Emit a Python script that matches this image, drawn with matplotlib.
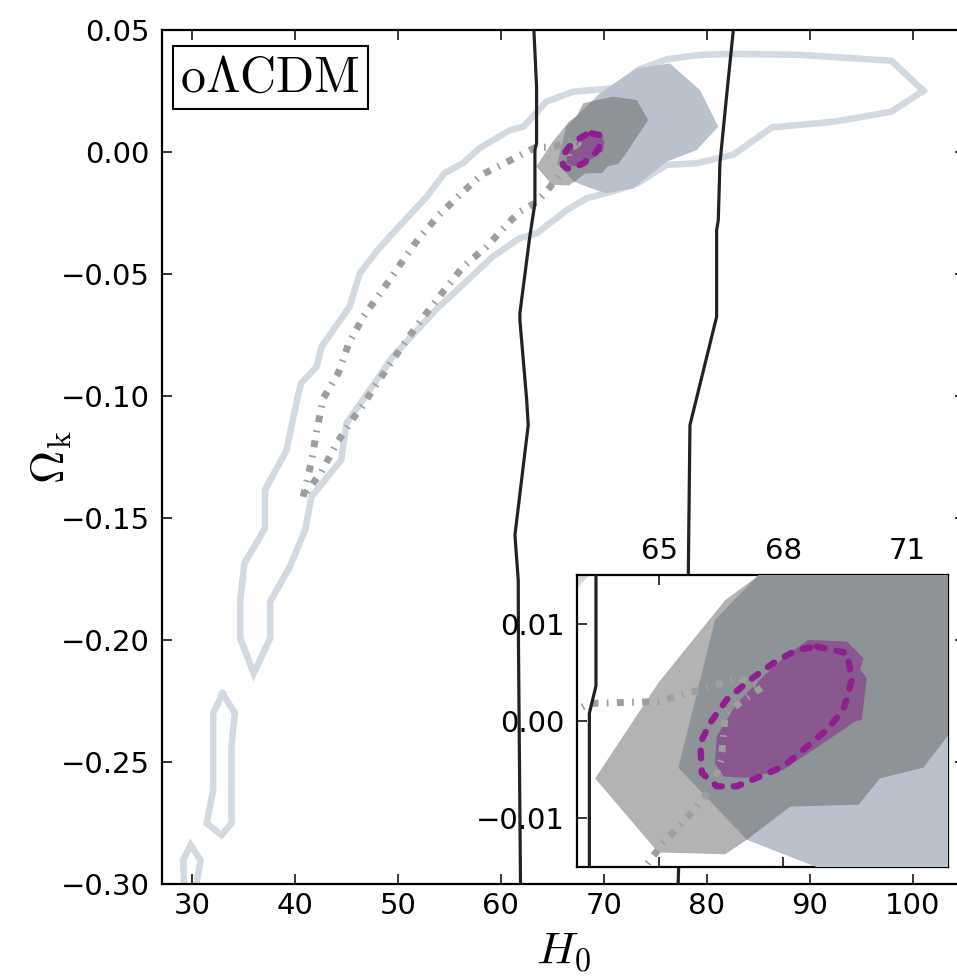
import matplotlib as mpl
import matplotlib.pyplot as plt

# ---- data (H0, Omega_k) ----
# wide outline contour (light blue-grey)
OUTER_H0 = [101.0, 97.9, 89.0, 82.6, 79.3, 76.1, 73.5, 70.9, 67.0, 64.4, 62.2, 60.9,
            57.9, 56.3, 54.5, 52.8, 49.2, 47.9, 46.3, 45.3, 42.6, 42.1, 40.6, 40.2,
            39.2, 37.1, 37.1, 35.1, 34.7, 34.7, 36.0, 37.6, 37.6, 39.5, 41.0, 41.6,
            44.5, 45.0, 46.6, 49.5, 53.8, 55.4, 57.3, 59.2, 61.8, 63.5, 66.4, 68.3,
            70.7, 73.2, 76.1, 79.0, 82.6, 86.3, 92.3, 97.9, 101.0]
OUTER_OK = [0.0251, 0.0374, 0.0398, 0.0402, 0.0398, 0.0380, 0.0340, 0.0261, 0.0247,
            0.0206, 0.0104, 0.0090, 0.0015, -0.0046, -0.0087, -0.0183, -0.0347,
            -0.0409, -0.0497, -0.0634, -0.0798, -0.0880, -0.0948, -0.1016, -0.1221,
            -0.1385, -0.1542, -0.1686, -0.1836, -0.1993, -0.2137, -0.1993, -0.1843,
            -0.1700, -0.1549, -0.1413, -0.1262, -0.1112, -0.1016, -0.0839, -0.0641,
            -0.0579, -0.0504, -0.0429, -0.0354, -0.0333, -0.0238, -0.0190, -0.0163,
            -0.0130, -0.0053, -0.0046, -0.0010, 0.0101, 0.0124, 0.0165, 0.0251]
ISLAND1_H0 = [32.98, 34.17, 33.85, 33.85, 32.88, 31.43, 32.07, 32.07, 32.98]
ISLAND1_OK = [-0.2219, -0.2300, -0.2437, -0.2751, -0.2799, -0.2751, -0.2615, -0.2300, -0.2219]
ISLAND2_H0 = [29.3, 29.16, 29.87, 30.84, 30.46, 30.5]
ISLAND2_OK = [-0.305, -0.2902, -0.2840, -0.2902, -0.2997, -0.305]

# blue-grey filled region
BLUE_H0 = [67.36, 66.35, 65.46, 67.12, 68.74, 70.26, 72.85, 76.09, 79.0, 81.1, 79.32,
           76.4, 73.17, 69.6, 67.36]
BLUE_OK = [0.0148, 0.0104, -0.0048, -0.0122, -0.0149, -0.0169, -0.0149, -0.0040,
           0.0008, 0.0104, 0.0254, 0.0363, 0.0343, 0.0240, 0.0148]

# grey (semi-transparent) filled region
GREY_H0 = [63.44, 64.97, 66.59, 67.36, 68.0, 70.9, 73.17, 74.3, 72.0, 71.4, 70.35,
           69.83, 68.17, 67.12, 66.59, 64.97, 63.44]
GREY_OK = [-0.0059, 0.0039, 0.0124, 0.0148, 0.0200, 0.0227, 0.0213, 0.0131, -0.0015,
           -0.0048, -0.0059, -0.0086, -0.0088, -0.0122, -0.0137, -0.0135, -0.0059]

# purple filled region
PURPLE_H0 = [68.61, 69.55, 69.95, 69.87, 70.03, 69.91, 69.75, 68.98, 68.01, 67.12,
             66.55, 66.35, 66.39, 66.88, 67.52, 68.09, 68.61]
PURPLE_OK = [0.00833, 0.00816, 0.00645, 0.00526, 0.00440, 0.00013, -0.00004, -0.00226,
             -0.00500, -0.00585, -0.00569, -0.00432, -0.00158, 0.00184, 0.00457,
             0.00679, 0.00833]

# purple dashed contour
PDASH_H0 = [68.82, 69.55, 69.67, 69.46, 69.06, 68.49, 68.01, 67.36, 66.88, 66.39,
            66.03, 65.99, 66.23, 66.63, 67.20, 67.76, 68.33, 68.82]
PDASH_OK = [0.00765, 0.00697, 0.00423, 0.00115, -0.00090, -0.00295, -0.00466,
            -0.00585, -0.00671, -0.00671, -0.00534, -0.00226, -0.00021, 0.00218,
            0.00423, 0.00594, 0.00731, 0.00765]

# grey dash-dot contour
DDOT_H0 = [40.8, 41.6, 42.1, 42.75, 44.2, 45.17, 46.63, 48.41, 50.19, 52.0, 54.0, 56.0,
           58.1, 60.87, 63.3, 64.97, 66.3, 66.9, 67.5, 66.6, 66.5, 66.27, 65.78, 65.1,
           64.3, 63.3, 61.8, 60.7, 58.6, 56.34, 54.4, 52.6, 50.84, 49.06, 47.45,
           46.63, 45.66, 44.05, 42.59, 40.8]
DDOT_OK = [-0.1413, -0.1270, -0.1146, -0.1010, -0.0907, -0.0791, -0.0675, -0.0572,
           -0.0463, -0.0355, -0.0258, -0.0176, -0.0094, -0.0035, 0.0018, 0.0020,
           0.0036, 0.0044, 0.0035, 0.0008, -0.0040, -0.0069, -0.0094, -0.0125,
           -0.0169, -0.0210, -0.0245, -0.0292, -0.0388, -0.0470, -0.0572, -0.0670,
           -0.0770, -0.0880, -0.0982, -0.1037, -0.1091, -0.1194, -0.1310, -0.1413]

# black lines
BLACK1_H0 = [63.2, 63.46, 63.46, 63.3, 63.3, 62.8, 61.84, 61.84, 62.5, 62.65, 61.36,
             61.68, 61.7, 61.9]
BLACK1_OK = [0.05, 0.0268, 0.0036, 0.0008, -0.0210, -0.0347, -0.0661, -0.0689, -0.1016,
             -0.1119, -0.1570, -0.1754, -0.2000, -0.3000]
BLACK2_H0 = [82.56, 81.9, 81.26, 81.1, 80.94, 80.94, 78.35, 78.19, 77.2]
BLACK2_OK = [0.05, 0.0227, -0.0046, -0.0279, -0.0320, -0.0675, -0.1119,
             -0.1727, -0.3000]

MAIN_XTICKS = [30, 40, 50, 60, 70, 80, 90, 100]
MAIN_YTICKS = [0.05, 0.00, -0.05, -0.10, -0.15, -0.20, -0.25, -0.30]
INSET_XTICKS = [65, 68, 71]
INSET_YTICKS = [0.01, 0.00, -0.01]

W, H, DPI = 957, 976, 100


def fx(px):
    return px / W


def fy(py):
    return 1 - py / H


def draw_layers(ax):
    for xs, ys in ((OUTER_H0, OUTER_OK), (ISLAND1_H0, ISLAND1_OK), (ISLAND2_H0, ISLAND2_OK)):
        ax.plot(xs, ys, color="#d3d9e0", lw=4.7, solid_joinstyle="miter", zorder=2)
    ax.fill(BLUE_H0, BLUE_OK, color="#b9c2cc", lw=0, zorder=3)
    ax.fill(GREY_H0, GREY_OK, color="#616161", alpha=0.48, lw=0, zorder=4)
    ax.fill(PURPLE_H0, PURPLE_OK, color="#800080", alpha=0.4, lw=0, zorder=5)
    ax.plot(DDOT_H0, DDOT_OK, color="#9e9e9e", lw=5.0, dashes=(1.0, 1.2, 0.25, 1.2), zorder=6)
    ax.plot(PDASH_H0, PDASH_OK, color="#8e1f8e", lw=4.6, dashes=(1.2, 1.9),
            dash_capstyle="round", zorder=7)
    ax.plot(BLACK1_H0, BLACK1_OK, color="#222222", lw=2.3, zorder=8)
    ax.plot(BLACK2_H0, BLACK2_OK, color="#222222", lw=2.3, zorder=8)


def style_axes(ax):
    for sp in ax.spines.values():
        sp.set_linewidth(1.6)
    ax.tick_params(which="both", direction="in", length=7, width=1.1,
                   labelsize=21, top=True, right=True)


mpl.rcParams.update({
    "font.family": ["DejaVu Sans"],
    "mathtext.fontset": "cm",
})

fig = plt.figure(figsize=(W / DPI, H / DPI), dpi=DPI)

# main axes: xlim right edge runs slightly past the figure edge
x_left, x_right = 27.1, 105.0
px_per = 10.3
right_px = 192 + (x_right - 30) * px_per
ax = fig.add_axes([fx(162), fy(884), (right_px - 162) / W, (884 - 30) / H])
draw_layers(ax)
ax.set_xlim(x_left, x_right)
ax.set_ylim(-0.30, 0.05)
ax.set_xticks(MAIN_XTICKS)
ax.set_yticks(MAIN_YTICKS)
ax.set_yticklabels([f"{v:.2f}".replace("-", "\u2212") for v in MAIN_YTICKS])
style_axes(ax)
ax.tick_params(axis="y", pad=9)
ax.tick_params(axis="x", pad=6)
ax.set_xlabel(r"$H_0$", fontsize=33, labelpad=6)
ax.set_ylabel(r"$\Omega_{\rm k}$", fontsize=33, labelpad=-10)
ax.text(0.023, 0.972, r"$\mathrm{o\Lambda CDM}$", transform=ax.transAxes,
        fontsize=36, ha="left", va="top",
        bbox=dict(boxstyle="square,pad=0.15", fc="white", ec="black", lw=1.5))

# inset
ins = fig.add_axes([fx(577), fy(867), (948 - 577) / W, (867 - 575) / H])
draw_layers(ins)
ins.set_xlim(63.0, 72.0)
ins.set_ylim(-0.015, 0.015)
ins.set_xticks(INSET_XTICKS)
ins.set_yticks(INSET_YTICKS)
ins.set_yticklabels([f"{v:.2f}".replace("-", "\u2212") for v in INSET_YTICKS])
style_axes(ins)
ins.tick_params(axis="x", labeltop=True, labelbottom=False, pad=7)
ins.tick_params(axis="y", pad=9)

fig.savefig("out.png", dpi=DPI)
